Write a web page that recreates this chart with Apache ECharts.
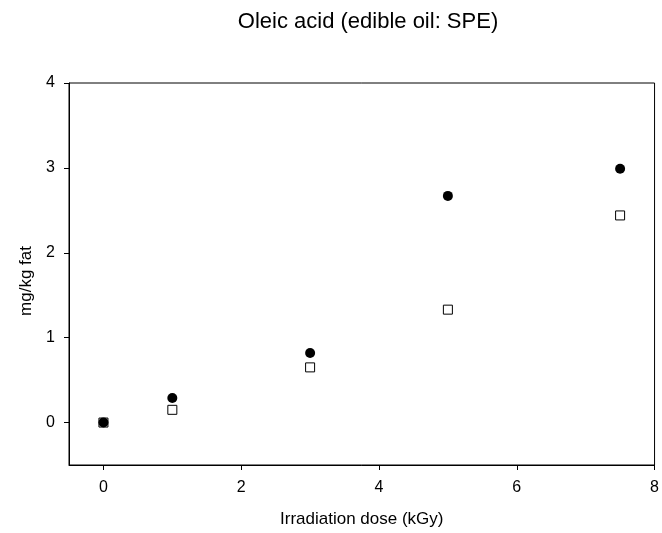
<!DOCTYPE html>
<html>
<head>
<meta charset="utf-8">
<script src="https://cdn.jsdelivr.net/npm/echarts@6/dist/echarts.min.js"></script>
<style>
html,body{margin:0;padding:0;background:#fff;}
#chart{width:662px;height:533px;}
</style>
</head>
<body>
<div id="chart"></div>
<script>
// Irradiation dose (kGy)
const doses = [0, 1, 3, 5, 7.5];
// Oleic acid, mg/kg fat
const filledSeries = [0, 0.29, 0.82, 2.67, 2.99];
const openSeries = [0, 0.15, 0.65, 1.33, 2.44];
const xTicks = [0, 2, 4, 6, 8];
const yTicks = [0, 1, 2, 3, 4];

const pairs = (ys) => doses.map((d, i) => [d, ys[i]]);
const font = 'Arial, "Liberation Sans", sans-serif';

const chart = echarts.init(document.getElementById('chart'), null, {renderer: 'canvas'});
chart.setOption({
  animation: false,
  backgroundColor: '#fff',
  title: {
    text: 'Oleic acid (edible oil: SPE)',
    left: 363, top: 6, textAlign: 'center',
    textStyle: {fontFamily: font, fontSize: 22, fontWeight: 'normal', color: '#000'}
  },
  grid: {left: 69, top: 83, right: 6, bottom: 68, show: true, borderColor: '#000', borderWidth: 1},
  xAxis: {
    type: 'value', min: -0.5, max: 8,
    name: 'Irradiation dose (kGy)', nameLocation: 'middle', nameGap: 46,
    nameTextStyle: {fontFamily: font, fontSize: 17, color: '#000'},
    axisLine: {show: true, onZero: false, lineStyle: {color: '#000'}},
    axisTick: {show: true, length: 5, lineStyle: {color: '#000'},
      customValues: xTicks},
    axisLabel: {fontFamily: font, fontSize: 16, color: '#000', margin: 15,
      customValues: xTicks},
    splitLine: {show: false}
  },
  yAxis: {
    type: 'value', min: -0.5, max: 4,
    name: 'mg/kg fat', nameLocation: 'middle', nameGap: 28,
    nameTextStyle: {fontFamily: font, fontSize: 17, color: '#000', padding: [0, 14, 0, 0]},
    axisLine: {show: true, onZero: false, lineStyle: {color: '#000'}},
    axisTick: {show: true, length: 5, lineStyle: {color: '#000'},
      customValues: yTicks},
    axisLabel: {fontFamily: font, fontSize: 16, color: '#000', margin: 14,
      customValues: yTicks},
    splitLine: {show: false}
  },
  series: [
    {
      type: 'scatter', data: pairs(openSeries),
      symbol: 'rect', symbolSize: 9,
      itemStyle: {color: '#fff', borderColor: '#000', borderWidth: 1, opacity: 1}, z: 2
    },
    {
      type: 'scatter', data: pairs(filledSeries),
      symbol: 'circle', symbolSize: 10,
      itemStyle: {color: '#000', opacity: 1}, z: 3
    }
  ]
});
</script>
</body>
</html>
